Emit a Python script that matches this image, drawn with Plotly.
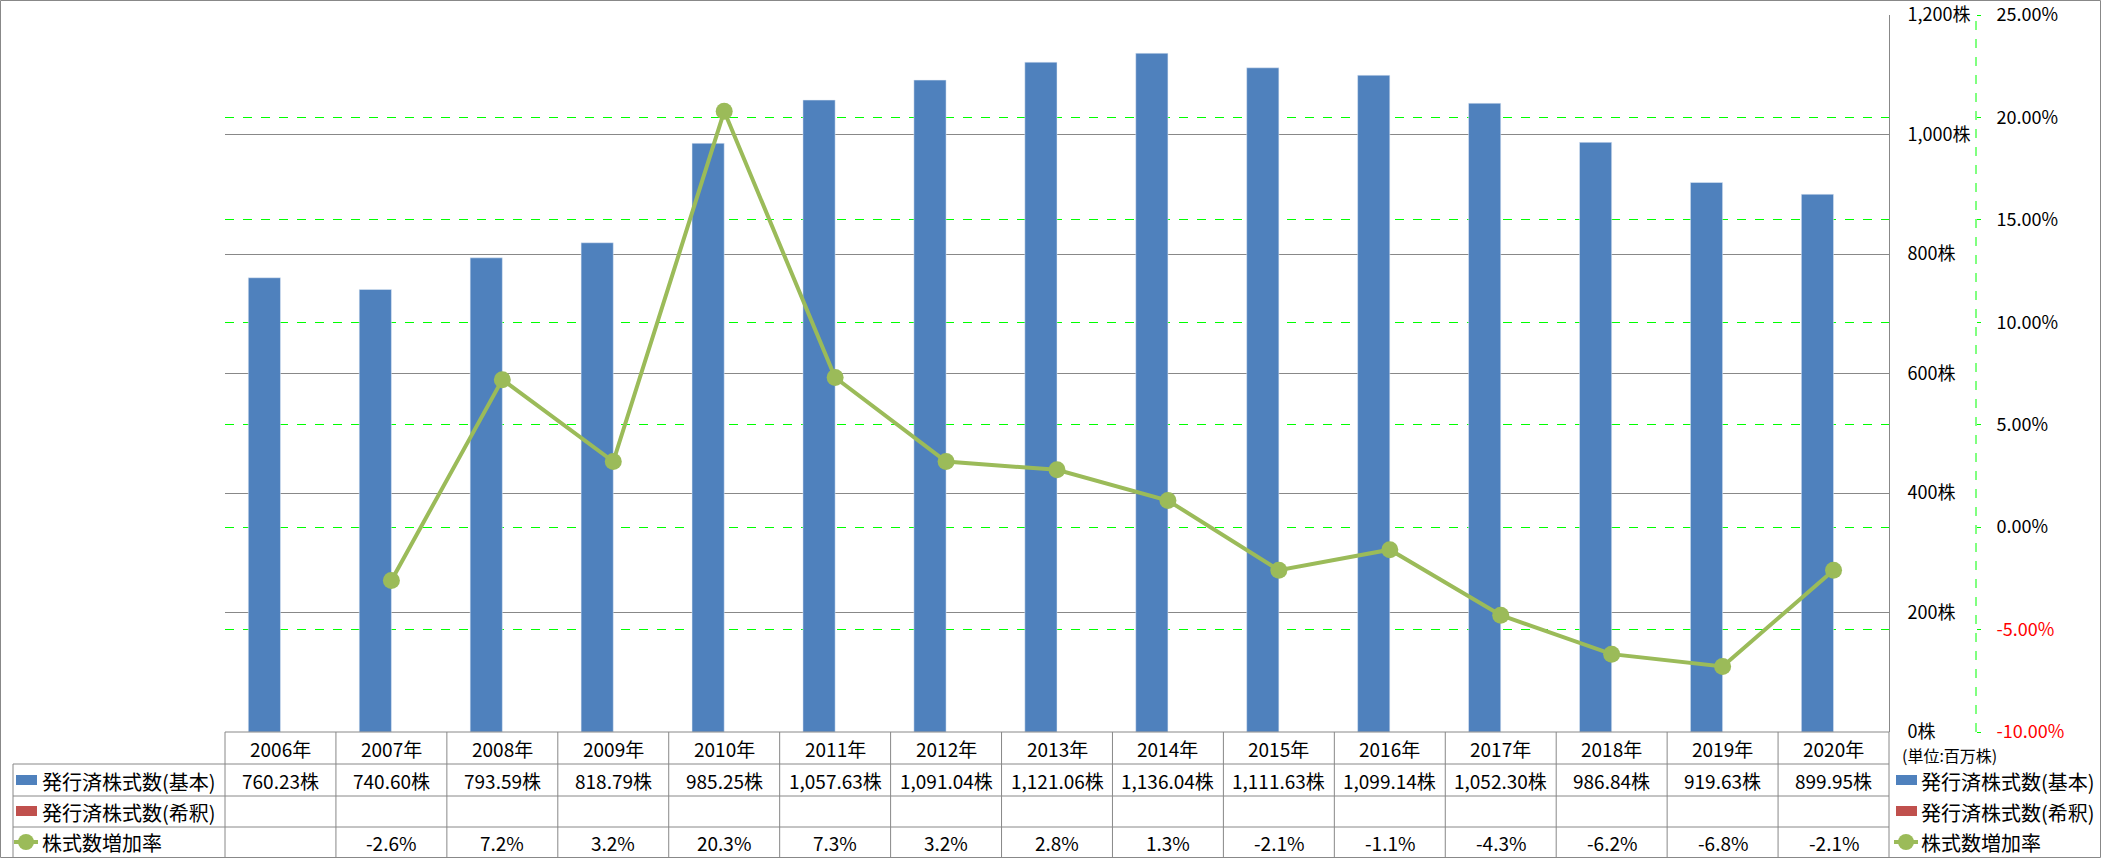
import plotly.graph_objects as go

# ---------------- data ----------------
years = ["2006年", "2007年", "2008年", "2009年", "2010年", "2011年", "2012年", "2013年",
         "2014年", "2015年", "2016年", "2017年", "2018年", "2019年", "2020年"]
shares_basic = [760.23, 740.60, 793.59, 818.79, 985.25, 1057.63, 1091.04, 1121.06,
                1136.04, 1111.63, 1099.14, 1052.30, 986.84, 919.63, 899.95]
shares_diluted = [None] * 15
growth_rate = [None, -2.6, 7.2, 3.2, 20.3, 7.3, 3.2, 2.8, 1.3, -2.1, -1.1, -4.3, -6.2, -6.8, -2.1]
y1_ticks = [0, 200, 400, 600, 800, 1000, 1200]
y2_ticks = [-10, -5, 0, 5, 10, 15, 20, 25]
series_names = ["発行済株式数(基本)", "発行済株式数(希釈)", "株式数増加率"]
unit_label = "(単位:百万株)"

# ---------------- layout helpers ----------------
W, H = 2101, 858
ML, MR, MT, MB = 225, 5, 15, 126
PW = W - ML - MR
PH = H - MT - MB
PLOT_RIGHT = 1889
PLOT_BOTTOM = H - MB


def px(x):
    return (x - ML) / PW


def py(y):
    return (PLOT_BOTTOM - y) / PH


XEND = px(PLOT_RIGHT)
FONT = "Noto Sans CJK JP"
BLUE, RED, GREEN = "#4F81BD", "#C0504D", "#9BBB59"
GRID = "#888888"
LIME = "#00FF00"

fig = go.Figure()
fig.add_trace(go.Bar(x=years, y=shares_basic, name=series_names[0], marker_color=BLUE,
                     showlegend=False))
fig.add_trace(go.Bar(x=years, y=shares_diluted, name=series_names[1], marker_color=RED,
                     showlegend=False))
fig.add_trace(go.Scatter(x=years, y=growth_rate, name=series_names[2], yaxis="y2",
                         mode="lines+markers", connectgaps=False,
                         line=dict(color=GREEN, width=4),
                         marker=dict(color=GREEN, size=17), showlegend=False))

y2_text = []
for v in y2_ticks:
    s = f"{v:.2f}%"
    if v < 0:
        s = f'<span style="color:#FF0000">{s}</span>'
    y2_text.append(s)

fig.update_layout(
    width=W, height=H,
    margin=dict(l=ML, r=MR, t=MT, b=MB, autoexpand=False),
    paper_bgcolor="white", plot_bgcolor="white",
    font=dict(family=FONT, size=18, color="#000000"),
    barmode="group", bargap=0.42, bargroupgap=0,
    hovermode=False,
    xaxis=dict(domain=[0, XEND], type="category", range=[-0.5, 14.5],
               showticklabels=False, ticks="", showgrid=False, zeroline=False,
               showline=False, automargin=False),
    yaxis=dict(side="right", range=[0, 1200], tickvals=y1_ticks,
               ticktext=[f"{v:,}株" for v in y1_ticks],
               showgrid=True, gridcolor=GRID, gridwidth=1, zeroline=False,
               showline=True, linecolor=GRID, linewidth=1, ticks="",
               ticklabelstandoff=14, tickfont=dict(size=18), automargin=False),
    yaxis2=dict(overlaying="y", side="right", anchor="free", position=px(1976),
                range=[-10, 25], tickvals=y2_ticks, ticktext=y2_text,
                showgrid=True, gridcolor=LIME, griddash="dash", gridwidth=1,
                zeroline=False, showline=False, ticks="outside", ticklen=4,
                tickcolor=LIME, tickwidth=1, ticklabelstandoff=12,
                tickfont=dict(size=18), automargin=False),
)

shapes = []
# secondary axis dashed line
shapes.append(dict(type="line", xref="paper", yref="paper", x0=px(1976), x1=px(1976),
                   y0=0, y1=1, line=dict(color=LIME, width=1, dash="dash")))
# table horizontal lines
shapes.append(dict(type="line", xref="paper", yref="paper", x0=0, x1=XEND,
                   y0=0, y1=0, line=dict(color=GRID, width=1)))
for yy in [764, 796, 827]:
    shapes.append(dict(type="line", xref="paper", yref="paper", x0=px(13), x1=XEND,
                       y0=py(yy), y1=py(yy), line=dict(color=GRID, width=1)))
# table vertical lines
n = len(years)
for k in range(n + 1):
    xx = XEND * k / n
    shapes.append(dict(type="line", xref="paper", yref="paper", x0=xx, x1=xx,
                       y0=0, y1=py(857), line=dict(color=GRID, width=1)))
shapes.append(dict(type="line", xref="paper", yref="paper", x0=px(13), x1=px(13),
                   y0=py(764), y1=py(857), line=dict(color=GRID, width=1)))
# outer border
shapes.append(dict(type="rect", xref="paper", yref="paper", x0=px(0.5), x1=px(2100.5),
                   y0=py(857.5), y1=py(0.5), line=dict(color=GRID, width=1)))

annotations = []
row_y = [780, 811, 842]


def cell(x, y, text, size=19, xref="x", xanchor="center"):
    return dict(x=x, xref=xref, y=y, yref="paper", text=text, showarrow=False,
                xanchor=xanchor, yanchor="middle", font=dict(size=size))


# header + values
for i, yr in enumerate(years):
    annotations.append(cell(yr, py(748), yr))
    annotations.append(cell(yr, py(row_y[0]), f"{shares_basic[i]:,.2f}株"))
    if shares_diluted[i] is not None:
        annotations.append(cell(yr, py(row_y[1]), f"{shares_diluted[i]:,.2f}株"))
    if growth_rate[i] is not None:
        annotations.append(cell(yr, py(row_y[2]), f"{growth_rate[i]:.1f}%"))

# legend keys (table left column and right side)
key_colors = [BLUE, RED]
for kx, tx in [(16, 40), (1896, 1919)]:
    for j in range(3):
        cy = row_y[j]
        if j < 2:
            shapes.append(dict(type="rect", xref="paper", yref="paper",
                               x0=px(kx), x1=px(kx + 21), y0=py(cy + 5), y1=py(cy - 5),
                               fillcolor=key_colors[j], line=dict(width=0)))
        else:
            shapes.append(dict(type="line", xref="paper", yref="paper",
                               x0=px(kx - 2), x1=px(kx + 22), y0=py(cy), y1=py(cy),
                               line=dict(color=GREEN, width=4)))
            shapes.append(dict(type="circle", xref="paper", yref="paper",
                               x0=px(kx + 2), x1=px(kx + 18), y0=py(cy + 8), y1=py(cy - 8),
                               fillcolor=GREEN, line=dict(width=0)))
        annotations.append(cell(px(tx), py(cy + 1), series_names[j], size=20,
                                xref="paper", xanchor="left"))

annotations.append(cell(px(1900), py(755), unit_label, size=16,
                        xref="paper", xanchor="left"))

fig.update_layout(shapes=shapes, annotations=annotations)
fig.write_html("out.html")
